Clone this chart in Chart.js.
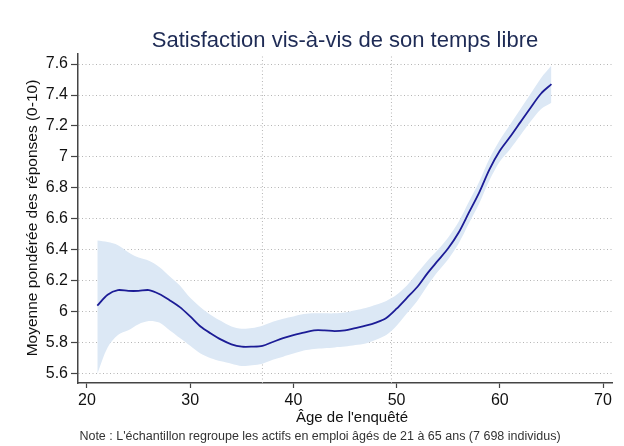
<!DOCTYPE html>
<html><head><meta charset="utf-8">
<script src="https://cdn.jsdelivr.net/npm/chart.js@4.4.1/dist/chart.umd.min.js"></script>
<style>html,body{margin:0;padding:0;background:#fff}#wrap{width:624px;height:446px}</style>
</head><body><div id="wrap"><canvas id="c" width="624" height="446"></canvas></div>
<script>
const ages = [21,22,23,24,25,26,27,28,29,30,31,32,33,34,35,36,37,38,39,40,41,42,43,44,45,46,47,48,49,50,51,52,53,54,55,56,57,58,59,60,61,62,63,64,65];
const meanValues = [6.04,6.11,6.14,6.135,6.135,6.14,6.115,6.075,6.03,5.97,5.905,5.86,5.82,5.79,5.775,5.775,5.78,5.805,5.83,5.85,5.865,5.88,5.88,5.875,5.88,5.895,5.91,5.93,5.96,6.02,6.09,6.16,6.25,6.33,6.41,6.51,6.64,6.77,6.92,7.04,7.13,7.225,7.32,7.41,7.47];
const lowerValues = [5.60,5.77,5.85,5.88,5.92,5.94,5.93,5.88,5.83,5.78,5.73,5.70,5.68,5.665,5.65,5.655,5.665,5.69,5.71,5.73,5.75,5.76,5.765,5.77,5.775,5.785,5.795,5.82,5.85,5.91,5.99,6.07,6.17,6.26,6.34,6.44,6.57,6.70,6.85,6.97,7.05,7.14,7.23,7.31,7.35];
const upperValues = [6.46,6.45,6.43,6.385,6.35,6.33,6.29,6.23,6.17,6.09,6.03,5.98,5.94,5.905,5.89,5.895,5.91,5.935,5.955,5.97,5.985,5.99,5.99,5.99,5.995,6.01,6.025,6.045,6.07,6.11,6.17,6.25,6.33,6.40,6.48,6.58,6.71,6.84,6.99,7.11,7.21,7.31,7.41,7.51,7.59];
const xTicks = [20,30,40,50,60,70];
const yTicks = [5.6,5.8,6,6.2,6.4,6.6,6.8,7,7.2,7.4,7.6];
const yTickLabels = ['5.6','5.8','6','6.2','6.4','6.6','6.8','7','7.2','7.4','7.6'];
const refLines = [37, 49.5];
const titleText = 'Satisfaction vis-à-vis de son temps libre';
const xTitleText = "Âge de l'enquêté";
const yTitleText = 'Moyenne pondérée des réponses (0-10)';
const noteText = "Note : L'échantillon regroupe les actifs en emploi âgés de 21 à 65 ans (7 698 individus)";

const X_MIN = 19.13, X_MAX = 70.87, Y_MIN = 5.54, Y_MAX = 7.665;
const FONT = "'Liberation Sans', Arial, Helvetica, sans-serif";

const pts = arr => ages.map((a, i) => ({x: a, y: arr[i]}));

const datasets = [
  {label: 'mean', data: pts(meanValues), borderColor: '#1c1c96', borderWidth: 1.8, pointRadius: 0, fill: false, tension: 0.3},
  {label: 'upper', data: pts(upperValues), borderWidth: 0, borderColor: 'rgba(0,0,0,0)', pointRadius: 0, backgroundColor: '#dce8f5', fill: '+1', tension: 0.3},
  {label: 'lower', data: pts(lowerValues), borderWidth: 0, borderColor: 'rgba(0,0,0,0)', pointRadius: 0, fill: false, tension: 0.3}
];
refLines.forEach(v => datasets.push({
  label: 'ref' + v, data: [{x: v, y: Y_MIN}, {x: v, y: Y_MAX}],
  borderColor: '#b5b5b5', borderWidth: 1, borderDash: [1, 2.5], pointRadius: 0, fill: false
}));

const textPlugin = {
  id: 'texts',
  afterDraw(chart) {
    const ctx = chart.ctx;
    ctx.save();
    ctx.textAlign = 'center';
    ctx.textBaseline = 'alphabetic';
    ctx.fillStyle = '#1e2b55';
    ctx.font = '22px ' + FONT;
    ctx.fillText(titleText, 345, 47);
    ctx.fillStyle = '#111';
    ctx.font = '15px ' + FONT;
    ctx.fillText(xTitleText, 352, 422);
    ctx.fillStyle = '#333';
    ctx.font = '12.5px ' + FONT;
    ctx.fillText(noteText, 320, 440);
    ctx.translate(37, 218);
    ctx.rotate(-Math.PI / 2);
    ctx.fillStyle = '#111';
    ctx.font = '15.5px ' + FONT;
    ctx.fillText(yTitleText, 0, 0);
    ctx.restore();
  }
};

new Chart(document.getElementById('c'), {
  type: 'line',
  data: {datasets},
  plugins: [textPlugin],
  options: {
    responsive: false, animation: false, devicePixelRatio: 1,
    layout: {padding: {top: 54, right: 12, bottom: 0, left: 0}},
    plugins: {legend: {display: false}, tooltip: {enabled: false}, title: {display: false}},
    scales: {
      x: {
        type: 'linear', min: X_MIN, max: X_MAX,
        afterBuildTicks: s => { s.ticks = xTicks.map(v => ({value: v})); },
        afterFit: s => { s.height = 63; },
        grid: {drawOnChartArea: false, drawTicks: true, tickLength: 5, tickColor: '#444', tickWidth: 1.2},
        border: {color: '#444', width: 1.5},
        ticks: {font: {family: FONT, size: 16}, color: '#111', padding: 3, maxRotation: 0, autoSkip: false}
      },
      y: {
        type: 'linear', min: Y_MIN, max: Y_MAX,
        afterBuildTicks: s => { s.ticks = yTicks.map(v => ({value: v})); },
        afterFit: s => { s.width = 78; },
        grid: {color: '#b5b5b5', lineWidth: 1, drawTicks: true, tickLength: 7, tickColor: '#444', tickWidth: 1.2},
        border: {color: '#444', width: 1.5, dash: [1, 2.5]},
        ticks: {font: {family: FONT, size: 16}, color: '#111', padding: 3, autoSkip: false,
          callback: (v, i) => yTickLabels[i]}
      }
    }
  }
});
</script>
</body></html>
